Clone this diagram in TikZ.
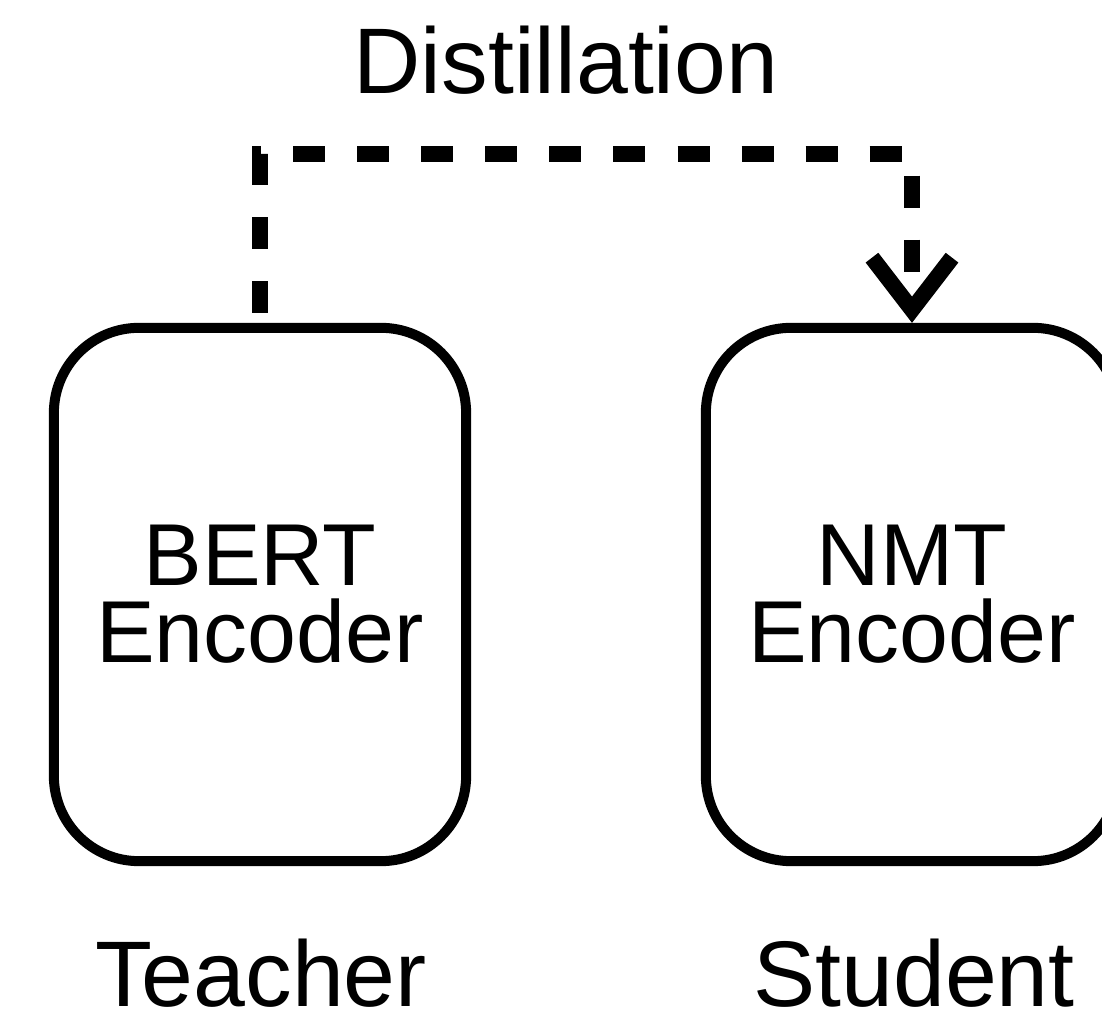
\documentclass[tikz,border=0pt]{standalone}
\usepackage{fontspec}
\setmainfont{Liberation Sans}
\usetikzlibrary{arrows.meta}

\tikzset{
  encoder/.style={draw=black, fill=white, line width=0.1cm, rounded corners=0.85cm,
    minimum width=4.12cm, minimum height=5.33cm, align=center, inner sep=0pt,
    font=\fontsize{25}{21.9}\selectfont},
  biglabel/.style={anchor=base, inner sep=0pt, font=\fontsize{26.5}{30}\selectfont},
  distill/.style={line width=0.16cm, dash pattern=on 0.32cm off 0.32cm,
    -{Straight Barb[length=0.52cm, width=0.8cm]}},
}

\begin{document}
\begin{tikzpicture}[x=0.01cm, y=-0.01cm]
  \useasboundingbox (0,0) rectangle (1102,1016);

  % encoders
  \node[encoder] (bert) at (260,594.5) {BERT\\Encoder};
  \node[encoder] (nmt)  at (912,594.5) {NMT\\Encoder};

  % role captions
  \node[biglabel] (teacher) at (261,1007) {Teacher};
  \node[biglabel] (student) at (914,1007) {Student};

  % distillation link from teacher to student
  \coordinate (top) at (586,154);
  \node[biglabel] (distlabel) at (566,94) {Distillation};
  \draw[distill] ([yshift=0.1cm]bert.north) |- (top) -| (nmt.north);
\end{tikzpicture}
\end{document}
